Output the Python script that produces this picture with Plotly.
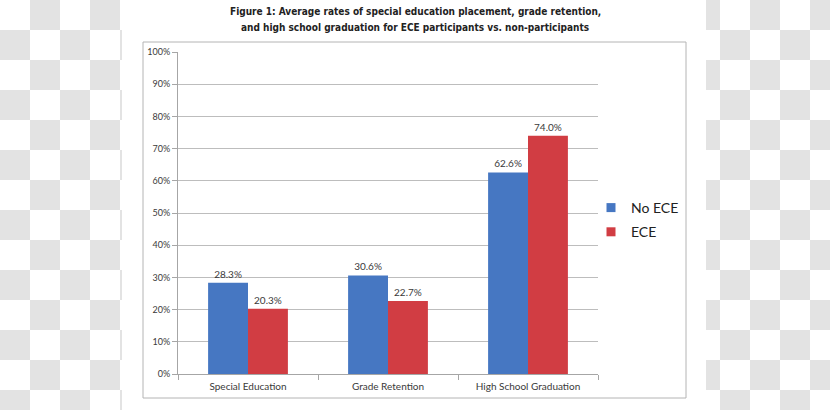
import plotly.graph_objects as go

categories = ["Special Education", "Grade Retention", "High School Graduation"]
no_ece = [28.3, 30.6, 62.6]
ece = [20.3, 22.7, 74.0]
series_names = ["No ECE", "ECE"]
y_ticks = [0, 10, 20, 30, 40, 50, 60, 70, 80, 90, 100]
y_tick_labels = ["0%", "10%", "20%", "30%", "40%", "50%", "60%", "70%", "80%", "90%", "100%"]
title_lines = ["Figure 1: Average rates of special education placement, grade retention,",
               "and high school graduation for ECE participants vs. non-participants"]

W, H = 830, 410
def px(x):
    return x / W
def py(y):
    return 1 - y / H

BLUE = "#4677c2"
RED = "#d13d43"
TXT = "#3a3a3a"
FONT = "Lato, Liberation Sans"

fig = go.Figure()
for name, vals, col in [(series_names[0], no_ece, BLUE), (series_names[1], ece, RED)]:
    fig.add_trace(go.Bar(x=categories, y=vals, name=name, marker_color=col,
                         marker_line_width=0, texttemplate="%{y:.1f}%", textposition="outside",
                         textfont=dict(size=10, color=TXT, family=FONT),
                         cliponaxis=False, showlegend=False, legendgroup=name))
# legend entries with small square keys
for name, col in [(series_names[0], BLUE), (series_names[1], RED)]:
    fig.add_trace(go.Scatter(x=[None], y=[None], mode="markers", name=name,
                             marker=dict(symbol="square", size=9, color=col),
                             legendgroup=name, showlegend=True))

shapes = []
# checkerboard background outside the white page (page spans x 122..706)
sq = 30
for j in range(0, H // sq + 1):
    for i in range(0, W // sq + 1):
        if (i + j) % 2 == 1:
            x0, x1 = i * sq, min((i + 1) * sq, W)
            y0, y1 = j * sq, min((j + 1) * sq, H)
            segs = []
            if x0 < 122:
                segs.append((x0, min(x1, 122)))
            if x1 > 706:
                segs.append((max(x0, 706), x1))
            for a, b in segs:
                shapes.append(dict(type="rect", xref="paper", yref="paper",
                                   x0=px(a), x1=px(b), y0=py(y1), y1=py(y0),
                                   fillcolor="#e3e3e3", line_width=0, layer="below"))
# chart border
shapes.append(dict(type="rect", xref="paper", yref="paper",
                   x0=px(143), x1=px(686), y0=py(398), y1=py(42),
                   line=dict(color="#b4b4b4", width=1), fillcolor="rgba(0,0,0,0)", layer="below"))

title_font = dict(size=10, color="#222",
                  family="Liberation Sans Narrow, DejaVu Sans Condensed, Liberation Sans")
fig.update_layout(
    width=W, height=H,
    margin=dict(l=0, r=0, t=0, b=0),
    paper_bgcolor="white", plot_bgcolor="rgba(0,0,0,0)",
    barmode="group", bargap=0.43, bargroupgap=0,
    shapes=shapes,
    showlegend=True,
    legend=dict(x=px(591), y=py(192), xanchor="left", yanchor="top",
                font=dict(size=14, color="#222", family=FONT),
                bgcolor="rgba(0,0,0,0)", tracegroupgap=3, itemwidth=30),
    annotations=[
        dict(text="<b>" + title_lines[0] + "</b>", xref="paper", yref="paper",
             x=px(415), y=py(11), xanchor="center", yanchor="middle",
             showarrow=False, font=title_font),
        dict(text="<b>" + title_lines[1] + "</b>", xref="paper", yref="paper",
             x=px(415), y=py(27), xanchor="center", yanchor="middle",
             showarrow=False, font=title_font),
    ],
    xaxis=dict(domain=[px(178), px(598)], showline=True, linecolor="#a6a6a6", linewidth=1,
               ticks="outside", tickson="boundaries", ticklen=5, tickcolor="#a6a6a6",
               tickfont=dict(size=10, color=TXT, family=FONT), ticklabelstandoff=3,
               showgrid=False, fixedrange=True, automargin=False),
    yaxis=dict(domain=[py(374), py(52)], range=[0, 100], tickvals=y_ticks, ticktext=y_tick_labels,
               showline=True, linecolor="#a6a6a6", linewidth=1,
               ticks="outside", ticklen=5, tickcolor="#a6a6a6",
               showgrid=True, gridcolor="#bdbdbd", gridwidth=1, zeroline=False,
               tickfont=dict(size=9, color=TXT, family=FONT), automargin=False, fixedrange=True),
)
fig.write_html("out.html", config={"displayModeBar": False},
               post_script="document.body.style.margin='0';document.body.style.overflow='hidden';")
